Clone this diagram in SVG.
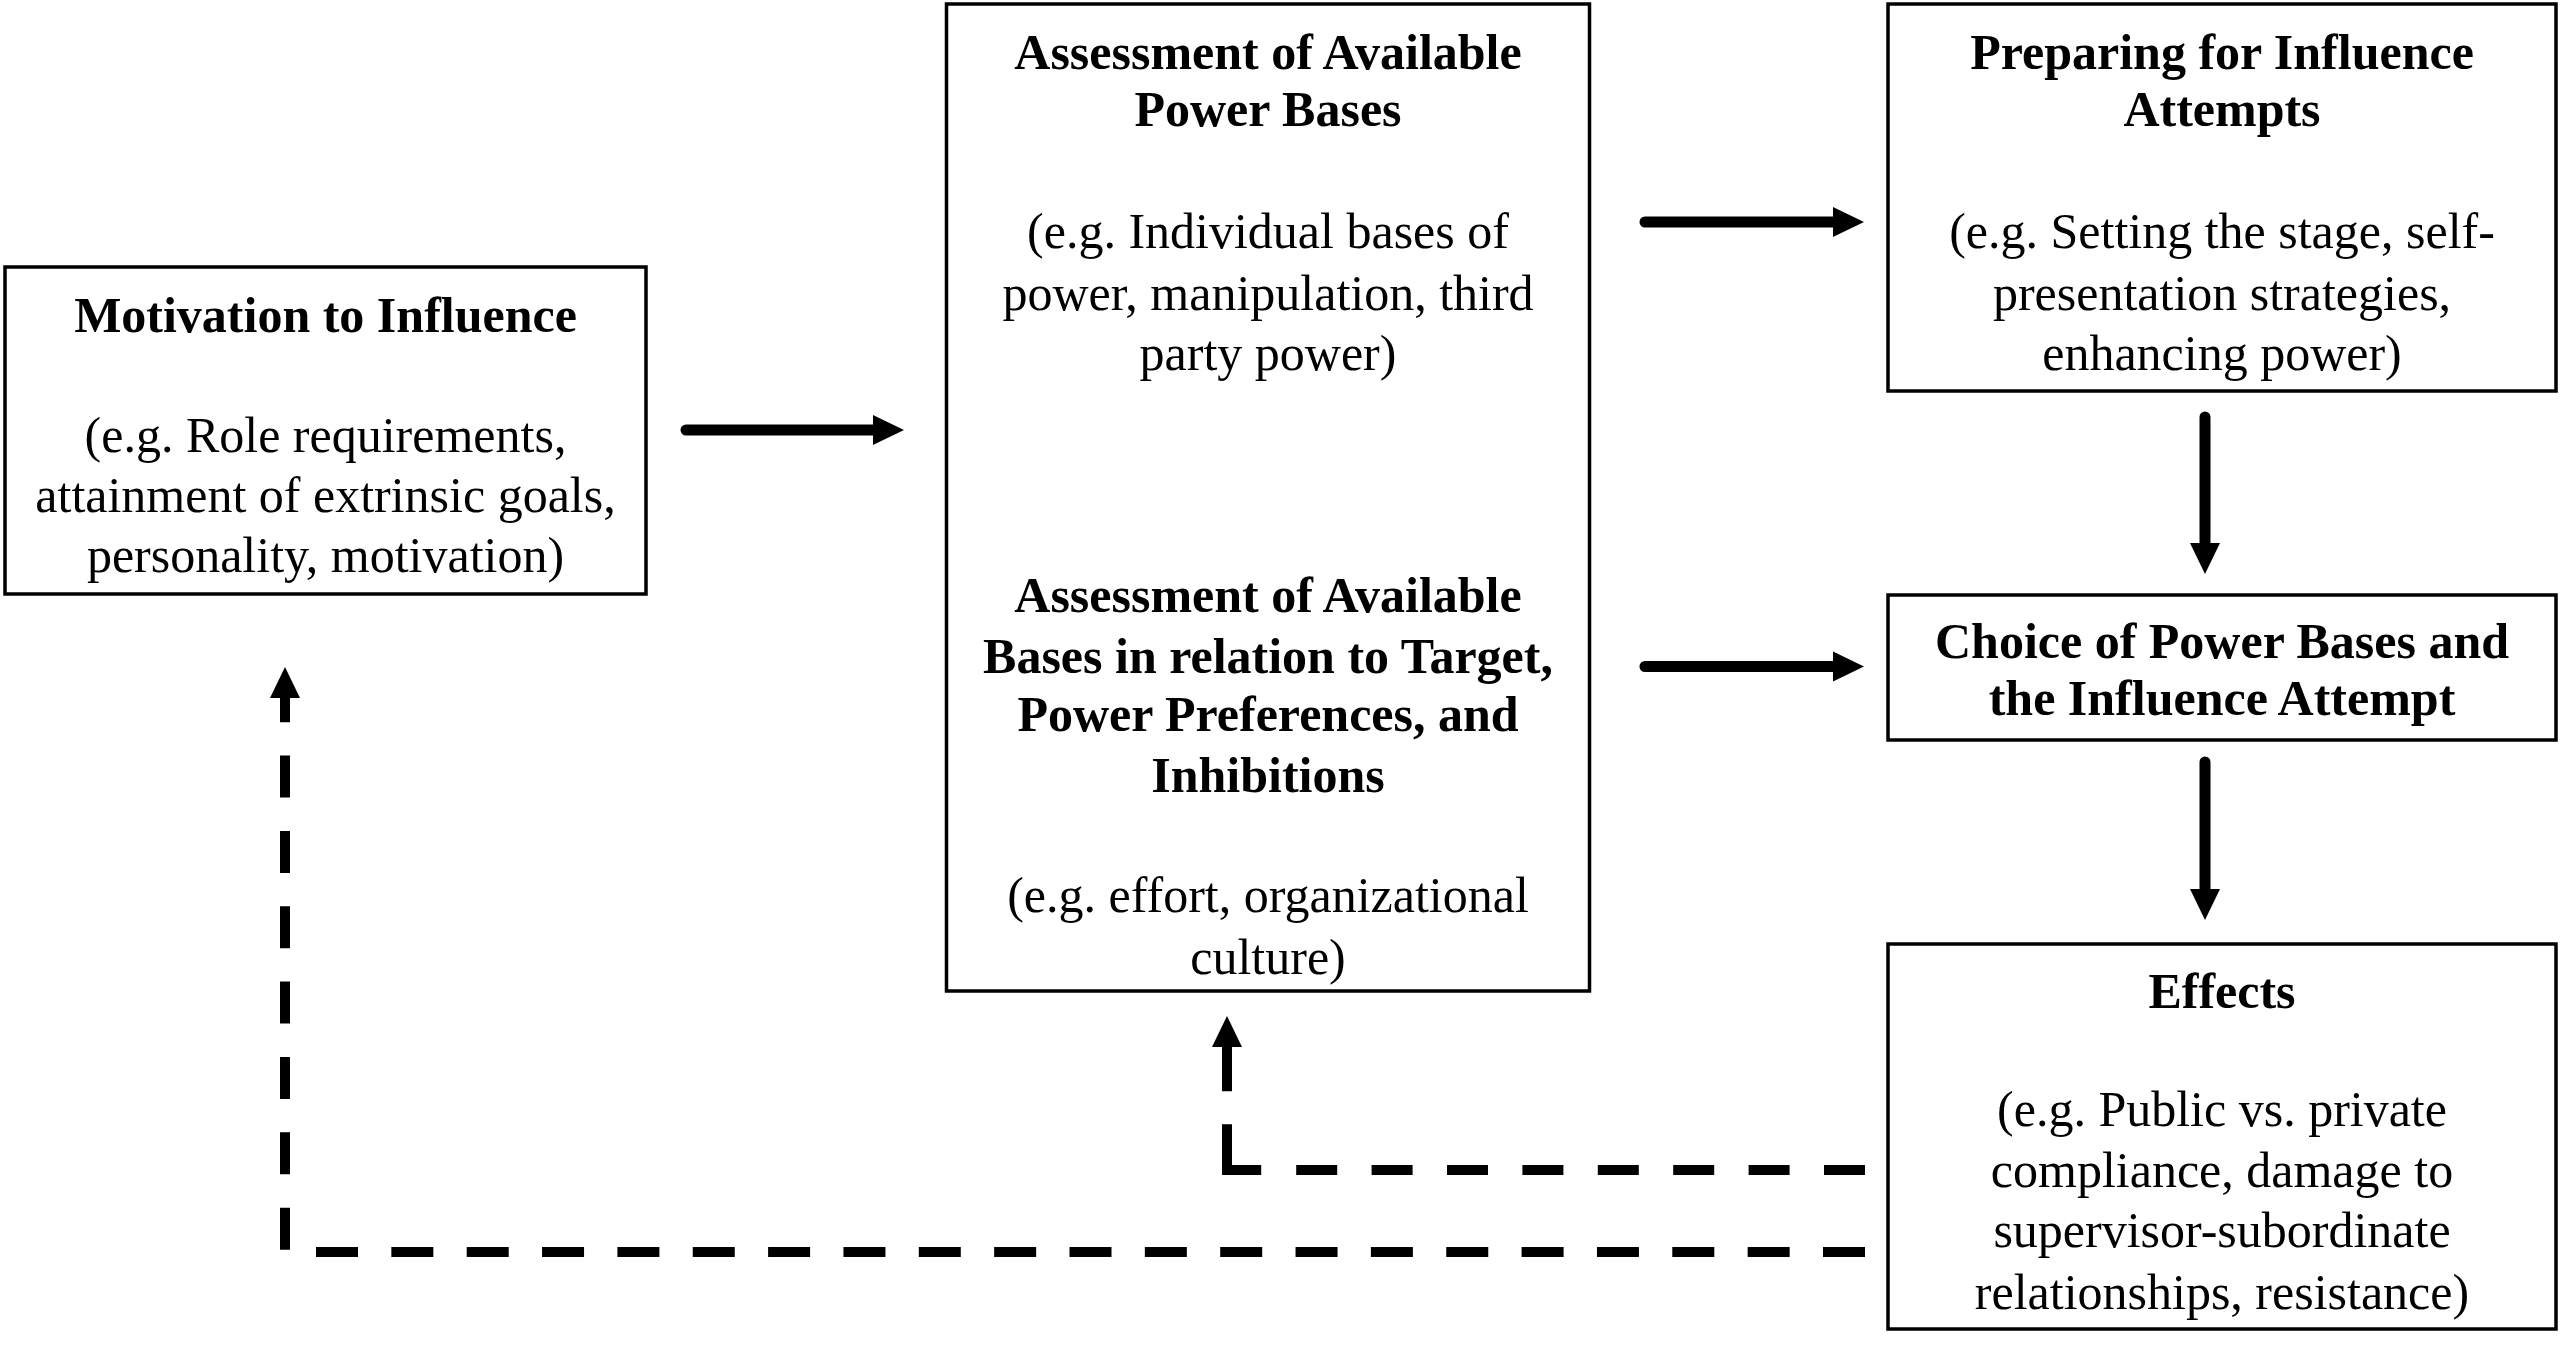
<svg xmlns="http://www.w3.org/2000/svg" width="2560" height="1351" viewBox="0 0 2560 1351">
<style>
.box{fill:#fff;stroke:#000;stroke-width:3.5}
text{font-family:"Liberation Serif","Times New Roman",serif;font-size:50px;fill:#000;text-anchor:middle}
.b{font-weight:bold}
.solid{fill:none;stroke:#000;stroke-width:11;stroke-linecap:round}
.dash{fill:none;stroke:#000;stroke-width:10;stroke-linecap:butt;stroke-linejoin:miter}
</style>
<defs>
<marker id="ah" markerUnits="userSpaceOnUse" markerWidth="32" markerHeight="32" refX="0" refY="15" orient="auto" viewBox="0 0 32 30">
<path d="M0,0 L31,15 L0,30 Z" fill="#000"/>
</marker>
</defs>
<rect width="2560" height="1351" fill="#fff"/>
<g id="motivation">
<rect class="box" x="5" y="267" width="641" height="327"/>
<text class="b" x="325.5" y="331.5">Motivation to Influence</text>
<text x="325.5" y="451.5">(e.g. Role requirements,</text>
<text x="325.5" y="511.5">attainment of extrinsic goals,</text>
<text x="325.5" y="571.5">personality, motivation)</text>
</g>
<g id="assessment">
<rect class="box" x="946.5" y="4" width="643" height="987"/>
<text class="b" x="1268" y="68.5">Assessment of Available</text>
<text class="b" x="1268" y="125.5">Power Bases</text>
<text x="1268" y="247.5">(e.g. Individual bases of</text>
<text x="1268" y="309.5">power, manipulation, third</text>
<text x="1268" y="369.5">party power)</text>
<text class="b" x="1268" y="611.5">Assessment of Available</text>
<text class="b" x="1268" y="672.5">Bases in relation to Target,</text>
<text class="b" x="1268" y="730.5">Power Preferences, and</text>
<text class="b" x="1268" y="791.5">Inhibitions</text>
<text x="1268" y="911.5">(e.g. effort, organizational</text>
<text x="1268" y="973.5">culture)</text>
</g>
<g id="preparing">
<rect class="box" x="1888" y="4" width="668" height="387"/>
<text class="b" x="2222" y="68.5">Preparing for Influence</text>
<text class="b" x="2222" y="125.5">Attempts</text>
<text x="2222" y="247.5">(e.g. Setting the stage, self-</text>
<text x="2222" y="309.5">presentation strategies,</text>
<text x="2222" y="369.5">enhancing power)</text>
</g>
<g id="choice">
<rect class="box" x="1888" y="595" width="668" height="145"/>
<text class="b" x="2222" y="657.5">Choice of Power Bases and</text>
<text class="b" x="2222" y="714.5">the Influence Attempt</text>
</g>
<g id="effects">
<rect class="box" x="1888" y="944" width="668" height="385"/>
<text class="b" x="2222" y="1007.5">Effects</text>
<text x="2222" y="1125.5">(e.g. Public vs. private</text>
<text x="2222" y="1186.5">compliance, damage to</text>
<text x="2222" y="1246.5">supervisor-subordinate</text>
<text x="2222" y="1308.5">relationships, resistance)</text>
</g>
<g id="connectors">
<path class="solid" d="M686,430 H873" marker-end="url(#ah)"/>
<path class="solid" d="M1645,222 H1833" marker-end="url(#ah)"/>
<path class="solid" d="M1645,666.5 H1833" marker-end="url(#ah)"/>
<path class="solid" d="M2205,417 V543" marker-end="url(#ah)"/>
<path class="solid" d="M2205,762 V889" marker-end="url(#ah)"/>
<path class="dash" d="M1865,1252 H285 V698" stroke-dasharray="42 33.35" marker-end="url(#ah)"/>
<path class="dash" d="M1865,1170 H1227 V1047" stroke-dasharray="41 34.4 41 34.4 41 34.4 41 34.4 41 34.4 41 34.4 41 34.4 41 35 80 33 46 200" marker-end="url(#ah)"/>
</g>
</svg>
